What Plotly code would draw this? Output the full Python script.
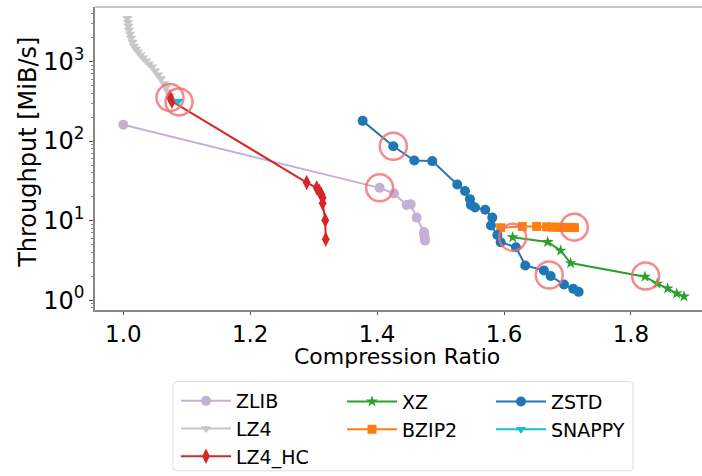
import plotly.graph_objects as go

# ---------------- data ----------------
zlib_x = [1.000, 1.404, 1.4266, 1.4466, 1.4529, 1.4623, 1.4738, 1.4743, 1.4748, 1.4754]
zlib_y = [160, 25.8, 21.9, 15.7, 16.0, 10.9, 7.2, 6.6, 6.1, 5.6]

lz4_x = [1.0066, 1.0074, 1.0082, 1.0090, 1.0106, 1.0121, 1.0145, 1.0169, 1.0200, 1.0232,
         1.0271, 1.0310, 1.0358, 1.0405, 1.0452, 1.0500, 1.0547, 1.0594, 1.0641, 1.0673,
         1.0704, 1.0736]
lz4_y = [3511, 3131, 2791, 2489, 2219, 1978, 1765, 1573, 1443, 1324,
         1215, 1114, 1023, 939, 861, 768, 684, 610, 529, 472,
         421, 375]

lz4hc_x = [1.0736, 1.0767, 1.289, 1.3048, 1.3089, 1.312, 1.3142, 1.3142, 1.3183, 1.319]
lz4hc_y = [354, 316, 30.1, 25.8, 23.4, 21.3, 19.4, 16.5, 10.1, 5.82]

xz_x = [1.6136, 1.6688, 1.6893, 1.705, 1.8221, 1.8415, 1.8579, 1.8721, 1.8836]
xz_y = [6.16, 5.38, 4.19, 2.92, 1.97, 1.61, 1.40, 1.21, 1.11]

bzip2_x = [1.5947, 1.6288, 1.6514, 1.6672, 1.6771, 1.683, 1.689, 1.696, 1.702, 1.707, 1.711]
bzip2_y = [8.13, 8.44, 8.44, 8.35, 8.27, 8.25, 8.22, 8.2, 8.2, 8.18, 8.15]

zstd_x = [1.3772, 1.4255, 1.4586, 1.4869, 1.5263, 1.5385, 1.5463, 1.5479, 1.5542, 1.5704,
          1.5815, 1.5794, 1.5894, 1.5947, 1.6188, 1.6335, 1.6629, 1.6735, 1.6945, 1.7091, 1.7176]
zstd_y = [179.5, 86.1, 57.0, 56.0, 28.4, 23.6, 18.6, 15.7, 14.6, 13.7,
          10.9, 8.69, 6.58, 5.34, 4.62, 2.73, 2.36, 2.01, 1.57, 1.39, 1.27]

snappy_x = [1.0867]
snappy_y = [318]

# highlighted (circled) points
hl_x = [1.0736, 1.0878, 1.4255, 1.404, 1.6136, 1.7107, 1.6713, 1.8232]
hl_y = [352, 311, 86.1, 25.8, 6.16, 8.27, 2.07, 2.01]

y_tickvals = [1, 10, 100, 1000]
y_ticktext = ["10<sup>0</sup>", "10<sup>1</sup>", "10<sup>2</sup>", "10<sup>3</sup>"]
x_tickvals = [1.0, 1.2, 1.4, 1.6, 1.8]
x_ticktext = ["1.0", "1.2", "1.4", "1.6", "1.8"]

x_title = "Compression Ratio"
y_title = "Throughput [MiB/s]"

FONT = "DejaVu Sans"

series = [
    # name, x, y, color, symbol, size, legend, rank
    ("ZLIB", zlib_x, zlib_y, "#c5b0d5", "circle", 10, "legend", 1),
    ("LZ4", lz4_x, lz4_y, "#c7c7c7", "triangle-down", 9, "legend", 2),
    ("LZ4_HC", lz4hc_x, lz4hc_y, "#d62728", "diamond-tall", 11, "legend", 3),
    ("XZ", xz_x, xz_y, "#2ca02c", "star", 9, "legend2", 4),
    ("BZIP2", bzip2_x, bzip2_y, "#ff7f0e", "square", 9, "legend2", 5),
    ("ZSTD", zstd_x, zstd_y, "#1f77b4", "circle", 10, "legend3", 6),
    ("SNAPPY", snappy_x, snappy_y, "#17becf", "triangle-down", 9, "legend3", 7),
]

fig = go.Figure()
for name, xs, ys, col, sym, sz, lg, rk in series:
    fig.add_trace(go.Scatter(
        x=xs, y=ys, name=name, mode="lines+markers",
        line=dict(color=col, width=2),
        marker=dict(color=col, symbol=sym, size=sz, line=dict(width=0)),
        legend=lg, legendrank=rk,
    ))

fig.add_trace(go.Scatter(
    x=hl_x, y=hl_y, mode="markers", showlegend=False,
    marker=dict(symbol="circle-open", size=27, color="rgba(240,110,110,0.8)",
                line=dict(width=2.5, color="rgba(240,110,110,0.8)")),
))

# plot area: x 95..702 px, y 6.7..312.7 px
PW, PH = 607.0, 306.0
L, T = 95, 312.7


def px_x(p):
    return (p - L) / PW


def px_y(p):
    return (T - p) / PH


# legend box (rounded rectangle)
x0, x1 = px_x(173), px_x(633)
y0, y1 = px_y(475), px_y(385)
rx, ry = 4 / PW, 4 / PH
path = (f"M{x0+rx},{y1} L{x1-rx},{y1} Q{x1},{y1} {x1},{y1-ry} "
        f"L{x1},{y0+ry} Q{x1},{y0} {x1-rx},{y0} L{x0+rx},{y0} "
        f"Q{x0},{y0} {x0},{y0+ry} L{x0},{y1-ry} Q{x0},{y1} {x0+rx},{y1} Z")

legend_common = dict(
    font=dict(family=FONT, size=19, color="#000000"),
    bgcolor="rgba(0,0,0,0)", borderwidth=0,
    orientation="v", xanchor="left", yanchor="top",
    itemwidth=50, itemsizing="trace",
)

fig.update_layout(
    width=702, height=476,
    margin=dict(l=95, r=0, t=7, b=163),
    paper_bgcolor="white", plot_bgcolor="white",
    font=dict(family=FONT, color="#000000"),
    xaxis=dict(
        range=[0.9554, 1.912], tickmode="array", tickvals=x_tickvals, ticktext=x_ticktext,
        tickfont=dict(size=23, family=FONT), ticks="outside", ticklen=3, tickwidth=1,
        tickcolor="#555555", showline=True, linecolor="#888888", linewidth=1.5,
        showgrid=False, zeroline=False,
    ),
    yaxis=dict(
        type="log", range=[-0.1245, 3.686], tickmode="array",
        tickvals=y_tickvals, ticktext=y_ticktext,
        tickfont=dict(size=24, family=FONT), ticks="outside", ticklen=4, tickwidth=1,
        tickcolor="#555555", showline=True, linecolor="#888888", linewidth=1.5,
        showgrid=False, zeroline=False,
        minor=dict(ticks="outside", ticklen=2, tickwidth=1, tickcolor="#888888", dtick="D1", showgrid=False),
    ),
    annotations=[
        dict(text=x_title, xref="paper", yref="paper", x=px_x(397), y=px_y(360),
             xanchor="center", yanchor="middle", showarrow=False,
             font=dict(size=22, family=FONT, color="#000000")),
        dict(text=y_title, xref="paper", yref="paper", x=px_x(28), y=px_y(154),
             xanchor="center", yanchor="middle", showarrow=False, textangle=-90,
             font=dict(size=24, family=FONT, color="#000000")),
    ],
    legend=dict(x=px_x(176), y=px_y(386), **legend_common),
    legend2=dict(x=px_x(342), y=px_y(386), **legend_common),
    legend3=dict(x=px_x(491), y=px_y(386), **legend_common),
    shapes=[
        dict(type="line", xref="paper", yref="paper", x0=0, x1=1, y0=1, y1=1,
             line=dict(color="#c4c4c4", width=2)),
        dict(type="path", xref="paper", yref="paper", path=path,
             line=dict(color="#dddddd", width=1), fillcolor="rgba(0,0,0,0)", layer="below"),
    ],
    showlegend=True,
)

fig.write_html("out.html")
